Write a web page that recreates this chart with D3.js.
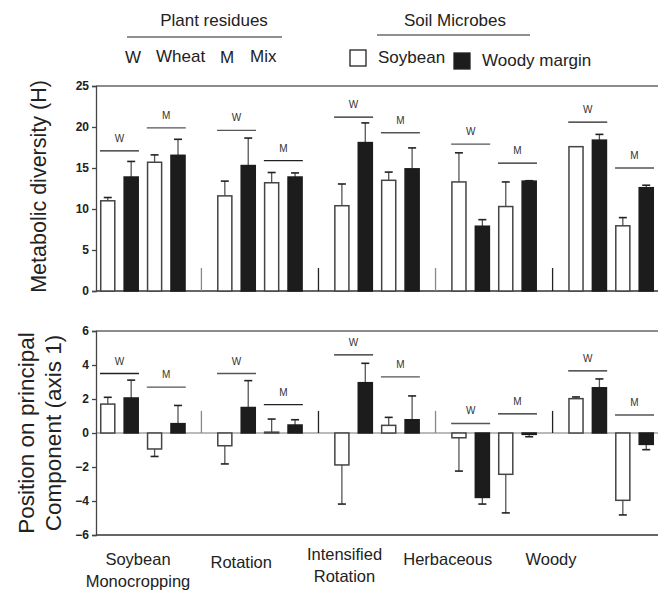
<!DOCTYPE html>
<html>
<head>
<meta charset="utf-8">
<script src="https://cdn.jsdelivr.net/npm/d3@7"></script>
<style>
  body { margin: 0; background: #fff; }
  svg { display: block; font-family: Arial, "Liberation Sans", sans-serif; }
</style>
</head>
<body>
<div id="chart"></div>
<script>
// data
var groups = ["Soybean Monocropping", "Rotation", "Intensified Rotation", "Herbaceous", "Woody"];
var residues = ["W", "W", "M", "M"];
var microbes = ["Soybean", "Woody margin", "Soybean", "Woody margin"];

var diversity = [
  [11.0, 13.9, 15.7, 16.55],
  [11.6, 15.3, 13.2, 13.9],
  [10.4, 18.1, 13.5, 14.9],
  [13.3, 7.9, 10.3, 13.4],
  [17.6, 18.4, 7.95, 12.6]
];
var diversityErr = [
  [0.4, 1.9, 0.9, 1.95],
  [1.8, 3.35, 1.25, 0.5],
  [2.65, 2.4, 1.0, 2.55],
  [3.55, 0.8, 3.0, 0.05],
  [0, 0.7, 1.0, 0.3]
];
var diversitySig = [[17.1, 19.9], [19.6, 15.9], [21.2, 19.3], [17.9, 15.6], [20.6, 15.0]];

var pc = [
  [1.7, 2.06, -0.94, 0.55],
  [-0.75, 1.5, 0.05, 0.47],
  [-1.88, 2.96, 0.45, 0.78],
  [-0.28, -3.79, -2.43, -0.08],
  [2.02, 2.66, -3.96, -0.67]
];
var pcErr = [
  [0.4, 1.05, 0.44, 1.07],
  [1.07, 1.58, 0.77, 0.31],
  [2.3, 1.14, 0.47, 1.4],
  [1.96, 0.39, 2.27, 0.14],
  [0.1, 0.52, 0.86, 0.31]
];
var pcSig = [[3.5, 2.7], [3.5, 1.67], [4.6, 3.3], [0.56, 1.12], [3.65, 1.06]];

var diversityTicks = [0, 5, 10, 15, 20, 25];
var pcTicks = [-6, -4, -2, 0, 2, 4, 6];
var separatorHeight = { diversity: 2.8, pc: 1.3 };

var width = 661, height = 594;
var left = 96, right = 658;

var svg = d3.select("#chart").append("svg")
  .attr("width", width).attr("height", height);

// 5 slots per group: 4 bars + a gap holding the separator tick
var slots = d3.range(groups.length * 5 - 1);
var x = d3.scaleBand().domain(slots).range([left, right]).paddingInner(0.335).paddingOuter(0.17);
var slotOf = function(g, b) { return g * 5 + b; };

var yTop = d3.scaleLinear().domain([0, 25]).range([291, 86]);
var yBot = d3.scaleLinear().domain([-6, 6]).range([535, 331]);

function barData(values, errs) {
  var out = [];
  values.forEach(function(row, g) {
    row.forEach(function(v, b) {
      out.push({ g: g, b: b, value: v, err: errs[g][b], microbe: microbes[b] });
    });
  });
  return out;
}

function drawPanel(y, values, errs, sigs, ticks, sepH, hasZeroLine) {
  var panel = svg.append("g");

  // frame
  panel.append("line")
    .attr("x1", left).attr("x2", right)
    .attr("y1", y(y.domain()[1])).attr("y2", y(y.domain()[1]))
    .attr("stroke", "#666").attr("stroke-width", 1.3);
  panel.append("line")
    .attr("x1", left).attr("x2", right)
    .attr("y1", y(y.domain()[0])).attr("y2", y(y.domain()[0]))
    .attr("stroke", "#333").attr("stroke-width", 1.3);
  if (hasZeroLine) {
    panel.append("line")
      .attr("x1", left).attr("x2", right)
      .attr("y1", y(0)).attr("y2", y(0))
      .attr("stroke", "#777").attr("stroke-width", 1.2);
  }

  var axis = panel.append("g")
    .attr("transform", "translate(" + left + ",0)")
    .call(d3.axisLeft(y).tickValues(ticks).tickSize(4).tickPadding(3).tickFormat(d3.format("d")));
  axis.select(".domain").attr("stroke", "#444").attr("stroke-width", 1.3);
  axis.selectAll(".tick line").attr("stroke", "#444").attr("stroke-width", 1.3);
  axis.selectAll(".tick text")
    .attr("font-size", 12).attr("font-weight", "bold").attr("fill", "#222")
    .attr("font-family", "Arial, 'Liberation Sans', sans-serif");

  // separators between groups
  panel.selectAll("line.sep")
    .data(d3.range(groups.length - 1))
    .enter().append("line")
    .attr("class", "sep")
    .attr("x1", function(g) { return x(slotOf(g, 4)) + x.bandwidth() / 2; })
    .attr("x2", function(g) { return x(slotOf(g, 4)) + x.bandwidth() / 2; })
    .attr("y1", y(0)).attr("y2", y(sepH))
    .attr("stroke", function(g) { return g % 2 ? "#222" : "#888"; })
    .attr("stroke-width", 1.3);

  var data = barData(values, errs);

  // error bars (one-sided, away from zero)
  var eb = panel.selectAll("g.err").data(data).enter().append("g").attr("class", "err");
  eb.append("line")
    .attr("x1", function(d) { return x(slotOf(d.g, d.b)) + x.bandwidth() / 2; })
    .attr("x2", function(d) { return x(slotOf(d.g, d.b)) + x.bandwidth() / 2; })
    .attr("y1", function(d) { return y(d.value); })
    .attr("y2", function(d) { return y(d.value + (d.value < 0 ? -d.err : d.err)); })
    .attr("stroke", "#555").attr("stroke-width", 1.3);
  eb.filter(function(d) { return d.err > 0; }).append("line")
    .attr("x1", function(d) { return x(slotOf(d.g, d.b)) + x.bandwidth() / 2 - 4; })
    .attr("x2", function(d) { return x(slotOf(d.g, d.b)) + x.bandwidth() / 2 + 4; })
    .attr("y1", function(d) { return y(d.value + (d.value < 0 ? -d.err : d.err)); })
    .attr("y2", function(d) { return y(d.value + (d.value < 0 ? -d.err : d.err)); })
    .attr("stroke", "#222").attr("stroke-width", 1.6);

  // bars
  panel.selectAll("rect.bar").data(data).enter().append("rect")
    .attr("class", "bar")
    .attr("x", function(d) { return x(slotOf(d.g, d.b)) + 0.75; })
    .attr("width", x.bandwidth() - 1.5)
    .attr("y", function(d) { return Math.min(y(d.value), y(0)); })
    .attr("height", function(d) { return Math.abs(y(d.value) - y(0)); })
    .attr("fill", function(d) { return d.microbe === "Soybean" ? "#fff" : "#1c1c1c"; })
    .attr("stroke", function(d) { return d.microbe === "Soybean" ? "#444" : "#1c1c1c"; })
    .attr("stroke-width", 1.5);

  // W / M significance lines
  var sig = [];
  sigs.forEach(function(pair, g) {
    pair.forEach(function(v, k) { sig.push({ g: g, k: k, value: v, label: residues[k * 2] }); });
  });
  var sg = panel.selectAll("g.sig").data(sig).enter().append("g").attr("class", "sig");
  sg.append("line")
    .attr("x1", function(d) { return x(slotOf(d.g, d.k * 2)); })
    .attr("x2", function(d) { return x(slotOf(d.g, d.k * 2 + 1)) + x.bandwidth(); })
    .attr("y1", function(d) { return y(d.value); })
    .attr("y2", function(d) { return y(d.value); })
    .attr("stroke", function(d) { return (d.g + d.k) % 2 ? "#555" : "#222"; })
    .attr("stroke-width", 1.3);
  sg.append("text")
    .attr("x", function(d) {
      return (x(slotOf(d.g, d.k * 2)) + x(slotOf(d.g, d.k * 2 + 1)) + x.bandwidth()) / 2;
    })
    .attr("y", function(d) { return y(d.value) - 9; })
    .attr("text-anchor", "middle")
    .attr("font-size", 10).attr("fill", "#333")
    .text(function(d) { return d.label; });
}

drawPanel(yTop, diversity, diversityErr, diversitySig, diversityTicks, separatorHeight.diversity, false);
drawPanel(yBot, pc, pcErr, pcSig, pcTicks, separatorHeight.pc, true);

// y axis titles
svg.append("text")
  .attr("transform", "translate(46," + (yTop(12.5) - 2) + ") rotate(-90)")
  .attr("text-anchor", "middle").attr("font-size", 21.5).attr("fill", "#222")
  .text("Metabolic diversity (H)");
svg.append("text")
  .attr("transform", "translate(34," + (yBot(0)) + ") rotate(-90)")
  .attr("text-anchor", "middle").attr("font-size", 22.5).attr("fill", "#222")
  .text("Position on principal");
svg.append("text")
  .attr("transform", "translate(61," + (yBot(0)) + ") rotate(-90)")
  .attr("text-anchor", "middle").attr("font-size", 22.5).attr("fill", "#222")
  .text("Component (axis 1)");

// category labels
var labelX = d3.scalePoint().domain(groups).range([138, 551]);
var catLabels = svg.selectAll("text.cat").data(groups).enter().append("text")
  .attr("class", "cat")
  .attr("text-anchor", "middle").attr("font-size", 16.5).attr("fill", "#222");
catLabels.each(function(name) {
  var words = name.split(" ");
  var t = d3.select(this);
  var y0 = words.length > 1 ? (name === "Intensified Rotation" ? 560 : 565) : (name === "Rotation" ? 568 : 565);
  words.forEach(function(w, i) {
    t.append("tspan").attr("x", labelX(name)).attr("y", y0 + i * 22).text(w);
  });
});

// legend
var legend = svg.append("g").attr("fill", "#222");
legend.append("text").attr("x", 214).attr("y", 26).attr("text-anchor", "middle")
  .attr("font-size", 17).text("Plant residues");
legend.append("line").attr("x1", 127).attr("x2", 282).attr("y1", 37).attr("y2", 37)
  .attr("stroke", "#222").attr("stroke-width", 1.2);
var resKeys = [["W", 125], ["Wheat", 156], ["M", 220], ["Mix", 250]];
legend.selectAll("text.res").data(resKeys).enter().append("text")
  .attr("class", "res")
  .attr("x", function(d) { return d[1]; })
  .attr("y", function(d, i) { return i % 2 ? 62 : 63; })
  .attr("font-size", 17).text(function(d) { return d[0]; });

legend.append("text").attr("x", 455).attr("y", 26).attr("text-anchor", "middle")
  .attr("font-size", 17).text("Soil Microbes");
legend.append("line").attr("x1", 377).attr("x2", 530).attr("y1", 35).attr("y2", 35)
  .attr("stroke", "#222").attr("stroke-width", 1.2);
var micKeys = [["Soybean", 350, 50, "#fff"], ["Woody margin", 454, 53, "#1c1c1c"]];
legend.selectAll("rect.key").data(micKeys).enter().append("rect")
  .attr("class", "key")
  .attr("x", function(d) { return d[1]; }).attr("y", function(d) { return d[2]; })
  .attr("width", 16).attr("height", 16)
  .attr("fill", function(d) { return d[3]; })
  .attr("stroke", "#222").attr("stroke-width", 1.3);
legend.selectAll("text.mic").data(micKeys).enter().append("text")
  .attr("class", "mic")
  .attr("x", function(d) { return d[1] + 28; })
  .attr("y", function(d, i) { return i ? 66 : 63; })
  .attr("font-size", 17).text(function(d) { return d[0]; });
</script>
</body>
</html>
